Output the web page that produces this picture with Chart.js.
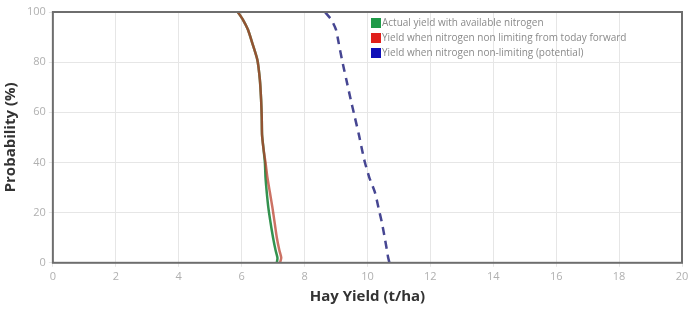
<!DOCTYPE html>
<html>
<head>
<meta charset="utf-8">
<script src="https://cdn.jsdelivr.net/npm/chart.js@4"></script>
<style>
  html, body { margin: 0; padding: 0; background: #fff; }
  #wrap { width: 698px; height: 311px; }
</style>
</head>
<body>
<div id="wrap"><canvas id="yieldChart" width="698" height="311"></canvas></div>
<script>
// chart data
const probabilities = [100, 97, 93, 88, 81, 73, 65, 58, 51, 45, 40, 34, 28, 22, 16, 10, 5, 2, 0];
const yieldActual = [5.88, 6.04, 6.2, 6.33, 6.5, 6.58, 6.62, 6.64, 6.65, 6.7, 6.74, 6.76, 6.8, 6.85, 6.92, 7.0, 7.08, 7.14, 7.12];
const yieldNonLimitingToday = [5.88, 6.04, 6.2, 6.33, 6.5, 6.58, 6.62, 6.64, 6.65, 6.7, 6.76, 6.82, 6.9, 6.98, 7.05, 7.12, 7.2, 7.26, 7.22];
const yieldPotential = [8.65, 8.85, 9.0, 9.08, 9.19, 9.33, 9.47, 9.6, 9.73, 9.83, 9.92, 10.06, 10.24, 10.35, 10.46, 10.55, 10.62, 10.66, 10.7];
const seriesLabels = [
  'Actual yield with available nitrogen',
  'Yield when nitrogen non limiting from today forward',
  'Yield when nitrogen non-limiting (potential)'
];
const legendColors = ['#1e9a48', '#e0201c', '#1010b8'];

function toPoints(xs) {
  return xs.map((x, i) => ({ x: x, y: probabilities[i] }));
}

// box round the plot area + legend inside it
const plotFrame = {
  id: 'plotFrame',
  afterDraw(chart) {
    const { ctx, chartArea: a } = chart;
    ctx.save();
    ctx.strokeStyle = '#6e6e6e';
    ctx.lineWidth = 2;
    ctx.strokeRect(a.left, a.top, a.right - a.left, a.bottom - a.top);

    ctx.font = '10px "Open Sans", sans-serif';
    ctx.textBaseline = 'middle';
    seriesLabels.forEach((label, i) => {
      const y = 23 + i * 15;
      ctx.fillStyle = legendColors[i];
      ctx.fillRect(371, y - 5, 10, 10);
      ctx.fillStyle = '#8a8a8a';
      ctx.fillText(label, 382, y);
    });
    ctx.restore();
  }
};

document.addEventListener('DOMContentLoaded', () => {
  const ctx = document.getElementById('yieldChart');
  new Chart(ctx, {
    type: 'scatter',
    data: {
      datasets: [
        {
          label: seriesLabels[0],
          data: toPoints(yieldActual),
          showLine: true,
          borderColor: 'rgba(40,140,70,0.95)',
          borderWidth: 2.5,
          pointRadius: 0,
          tension: 0.2,
          order: 2
        },
        {
          label: seriesLabels[1],
          data: toPoints(yieldNonLimitingToday),
          showLine: true,
          borderColor: 'rgba(185,60,40,0.72)',
          borderWidth: 2.5,
          pointRadius: 0,
          tension: 0.2,
          order: 1
        },
        {
          label: seriesLabels[2],
          data: toPoints(yieldPotential),
          showLine: true,
          borderColor: 'rgba(60,60,140,0.95)',
          borderWidth: 2.5,
          borderDash: [8, 6],
          pointRadius: 0,
          tension: 0.2,
          order: 0
        }
      ]
    },
    options: {
      responsive: false,
      animation: false,
      layout: { padding: { top: 12, right: 16, left: 2, bottom: 5 } },
      plugins: {
        legend: { display: false },
        tooltip: { enabled: false }
      },
      scales: {
        x: {
          type: 'linear',
          min: 0, max: 20,
          ticks: { stepSize: 2, color: '#b0b0b0', font: { size: 11, family: '"Open Sans", sans-serif' } },
          grid: { color: '#e6e6e6', tickLength: 4 },
          border: { display: false },
          title: {
            display: true,
            text: 'Hay Yield (t/ha)',
            color: '#333',
            font: { size: 15, weight: 'bold', family: '"Open Sans", sans-serif' },
            padding: { top: 2, bottom: 0 }
          }
        },
        y: {
          min: 0, max: 100,
          ticks: { stepSize: 20, color: '#b0b0b0', font: { size: 11, family: '"Open Sans", sans-serif' } },
          grid: { color: '#e6e6e6', tickLength: 4 },
          border: { display: false },
          title: {
            display: true,
            text: 'Probability (%)',
            color: '#333',
            font: { size: 15, weight: 'bold', family: '"Open Sans", sans-serif' },
            padding: { top: 0, bottom: 4 }
          }
        }
      }
    },
    plugins: [plotFrame]
  });
});
</script>
</body>
</html>
